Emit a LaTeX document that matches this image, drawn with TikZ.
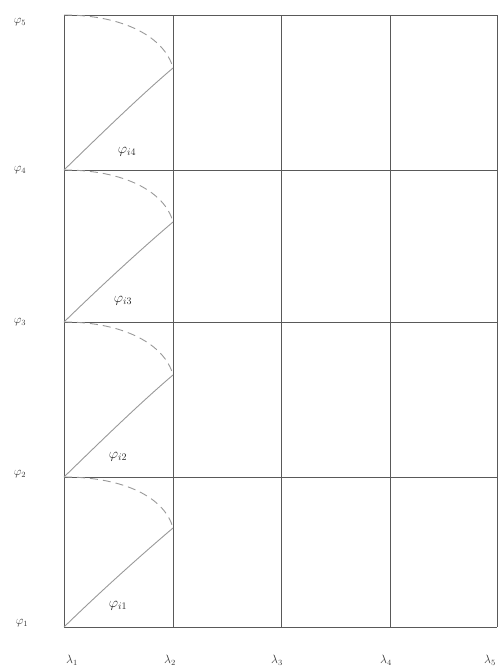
\documentclass[tikz,border=0pt]{standalone}
\begin{document}
\begin{tikzpicture}[x=1pt,y=-1pt,
  gridline/.style={draw=black!65,line width=1pt},
  solidcurve/.style={draw=black!40,line width=0.9pt},
  dashcurve/.style={draw=black!40,line width=0.9pt,dash pattern=on 8pt off 5pt},
  lab/.style={font=\large,text=black!80,inner sep=1pt},
  clab/.style={font=\Large,text=black!85,inner sep=1pt}]
\useasboundingbox (0,0) rectangle (499,672);
% grid
\foreach \x in {64,173,281,390,497} \draw[gridline] (\x,15) -- (\x,627);
\foreach \y in {15,170,322,477,627} \draw[gridline] (64,\y) -- (497,\y);
% curves
\foreach \b/\t/\p in {627/477/528, 477/322/375, 322/170/222, 170/15/68}{
  \draw[solidcurve] (64,\b) .. controls (100,\b-35) and (140,\p+28) .. (173,\p);
  \draw[dashcurve] (64,\t) .. controls (125,\t) and (165,\p-30) .. (173,\p);
}
% cell labels
\node[clab] (c1) at (118,606) {$\varphi_{i1}$};
\node[clab] (c2) at (118,457) {$\varphi_{i2}$};
\node[clab] (c3) at (123,301) {$\varphi_{i3}$};
\node[clab] (c4) at (127,152) {$\varphi_{i4}$};
% left labels
\node[lab] (f1) at (22,623) {$\varphi_1$};
\node[lab] (f2) at (20,474) {$\varphi_2$};
\node[lab] (f3) at (20,322) {$\varphi_3$};
\node[lab] (f4) at (20,170) {$\varphi_4$};
\node[lab] (f5) at (20,22) {$\varphi_5$};
% bottom labels
\node[lab] (l1) at (72,660) {$\lambda_1$};
\node[lab] (l2) at (170,660) {$\lambda_2$};
\node[lab] (l3) at (277,660) {$\lambda_3$};
\node[lab] (l4) at (386,660) {$\lambda_4$};
\node[lab] (l5) at (490,660) {$\lambda_5$};
\end{tikzpicture}
\end{document}
